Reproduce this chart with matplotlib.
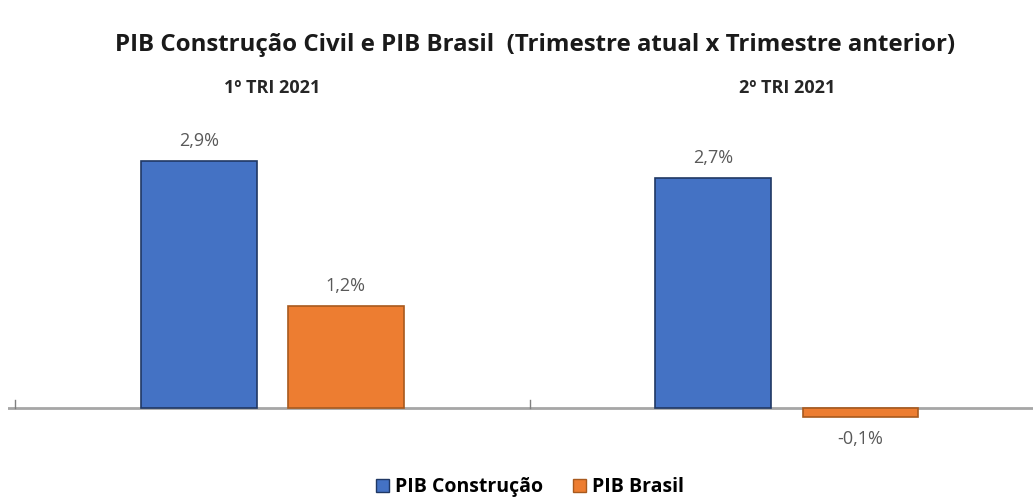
import numpy as np
import matplotlib.pyplot as plt
from matplotlib.patches import Patch

plt.rcParams['font.family'] = ['Open Sans', 'DejaVu Sans']

periods = ['1º TRI 2021', '2º TRI 2021']
series = ['PIB Construção', 'PIB Brasil']
pib_construcao = [2.9, 2.7]
pib_brasil = [1.2, -0.1]

fill_colors = ['#4472C4', '#ED7D31']
edge_colors = ['#203864', '#A85A1E']

fig = plt.figure(figsize=(10.33, 5.04), dpi=100)
ax = fig.add_axes([0.008, 0.127, 0.992, 0.655])

x = np.arange(len(periods))
width = 0.225
offset = 0.143

for vals, off, fc, ec in zip([pib_construcao, pib_brasil], [-offset, offset],
                             fill_colors, edge_colors):
    bars = ax.bar(x + off, vals, width, color=fc, edgecolor=ec, linewidth=1.2)
    for b, v in zip(bars, vals):
        label = f'{v:.1f}%'.replace('.', ',')
        if v >= 0:
            ax.annotate(label, (b.get_x() + b.get_width() / 2, v),
                        xytext=(0, 8), textcoords='offset points',
                        ha='center', va='bottom', fontsize=13, color='#595959',
                        annotation_clip=False)
        else:
            ax.annotate(label, (b.get_x() + b.get_width() / 2, v),
                        xytext=(0, -10), textcoords='offset points',
                        ha='center', va='top', fontsize=13, color='#595959',
                        annotation_clip=False)

ax.set_xlim(-0.513, 1.478)
ax.set_ylim(-0.375, 3.5)
ax.axhline(0, color='#A6A6A6', linewidth=2, zorder=0)
for t in [-0.5, 0.5]:
    ax.plot([t, t], [0, 0.1], color='#808080', linewidth=1, zorder=0)

for s in ax.spines.values():
    s.set_visible(False)
ax.set_xticks([])
ax.set_yticks([])

# group labels above the bars
for xi, p in zip(x, periods):
    ax.text(xi, 1.0 + 22 / 330, p, transform=ax.get_xaxis_transform(),
            ha='center', va='center', fontsize=13, fontweight='bold', color='#262626')

fig.text(0.518, 0.91, 'PIB Construção Civil e PIB Brasil  (Trimestre atual x Trimestre anterior)',
         ha='center', va='center', fontsize=17.3, fontweight='bold', color='#1a1a1a')

handles = [Patch(facecolor=fc, edgecolor=ec) for fc, ec in zip(fill_colors, edge_colors)]
fig.legend(handles, series, loc='center', bbox_to_anchor=(0.513, 0.033), ncol=2,
           frameon=False, prop={'weight': 'bold', 'size': 14}, handlelength=0.7,
           handleheight=0.7, columnspacing=1.5, handletextpad=0.3)

fig.savefig('out.png', dpi=100)
